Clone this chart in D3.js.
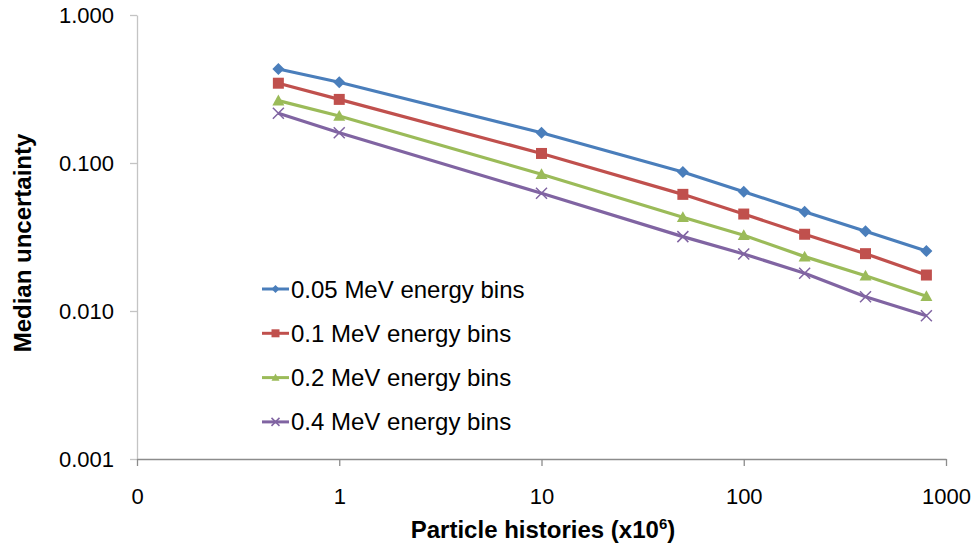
<!DOCTYPE html>
<html>
<head>
<meta charset="utf-8">
<script src="https://cdn.jsdelivr.net/npm/d3@7"></script>
<style>
  html, body { margin: 0; padding: 0; background: #fff; }
  svg { display: block; font-family: "Liberation Sans", Arial, Helvetica, sans-serif; }
</style>
</head>
<body>
<svg id="chart" width="978" height="552"></svg>
<script>
// Particle histories (millions) at which each run was evaluated
const histories = [0.5, 1, 10, 50, 100, 200, 400, 800];

// Median uncertainty for each energy-bin width
const bins005 = [0.432, 0.351, 0.160, 0.0869, 0.0640, 0.0469, 0.0346, 0.0254];
const bins01  = [0.346, 0.269, 0.116, 0.0614, 0.0452, 0.0330, 0.0244, 0.0175];
const bins02  = [0.264, 0.208, 0.0839, 0.0430, 0.0325, 0.0233, 0.0173, 0.0126];
const bins04  = [0.217, 0.160, 0.0624, 0.0318, 0.0243, 0.0180, 0.0125, 0.0093];

const seriesNames = ["0.05 MeV energy bins", "0.1 MeV energy bins", "0.2 MeV energy bins", "0.4 MeV energy bins"];
const seriesColors = ["#4a7ebb", "#c0504d", "#9bbb59", "#8064a2"];
const seriesMarkers = ["diamond", "square", "triangle", "cross"];

// Axis ticks
const xTickValues = [0.1, 1, 10, 100, 1000];
const xTickLabels = ["0", "1", "10", "100", "1000"];
const yTickValues = [1, 0.1, 0.01, 0.001];
const yTickLabels = ["1.000", "0.100", "0.010", "0.001"];

const series = [bins005, bins01, bins02, bins04].map((vals, i) => ({
  name: seriesNames[i],
  color: seriesColors[i],
  marker: seriesMarkers[i],
  points: histories.map((h, j) => ({ x: h, y: vals[j] }))
}));

const svg = d3.select("#chart");
const plot = { left: 137, right: 946, top: 15, bottom: 459 };

const x = d3.scaleLog().domain([0.1, 1000]).range([plot.left, plot.right]);
const y = d3.scaleLog().domain([0.001, 1]).range([plot.bottom, plot.top]);

// Y axis
const yAxis = d3.axisLeft(y)
  .tickValues(yTickValues)
  .tickFormat((d, i) => yTickLabels[i])
  .tickSize(7)
  .tickPadding(16)
  .tickSizeOuter(0);
const gy = svg.append("g").attr("transform", `translate(${plot.left},0)`).call(yAxis);
gy.select(".domain").attr("stroke", "#c4c4c4").attr("stroke-width", 1.3);
gy.selectAll(".tick line").attr("stroke", "#c4c4c4").attr("stroke-width", 1.3);
gy.selectAll(".tick text")
  .attr("fill", "#000")
  .style("font-size", "22px");

// X axis
const xAxis = d3.axisBottom(x)
  .tickValues(xTickValues)
  .tickFormat((d, i) => xTickLabels[i])
  .tickSize(7)
  .tickPadding(22)
  .tickSizeOuter(0);
const gx = svg.append("g").attr("transform", `translate(0,${plot.bottom})`).call(xAxis);
gx.select(".domain").attr("stroke", "#8c8c8c").attr("stroke-width", 1.3);
gx.selectAll(".tick line").attr("stroke", "#8c8c8c").attr("stroke-width", 1.3);
gx.selectAll(".tick text")
  .attr("fill", "#000")
  .style("font-size", "22px");

// Axis titles
const xTitle = svg.append("text")
  .attr("x", 543).attr("y", 538)
  .attr("text-anchor", "middle")
  .style("font-size", "24px").style("font-weight", "bold");
xTitle.append("tspan").text("Particle histories (x10");
xTitle.append("tspan").attr("dy", -9).style("font-size", "15px").text("6");
xTitle.append("tspan").attr("dy", 9).text(")");

svg.append("text")
  .attr("transform", "translate(31,243) rotate(-90)")
  .attr("text-anchor", "middle")
  .style("font-size", "24px").style("font-weight", "bold")
  .text("Median uncertainty");

// Marker shapes, sized by half-width r
function markerPath(type, r) {
  const p = d3.path();
  if (type === "diamond") {
    p.moveTo(0, -r); p.lineTo(r, 0); p.lineTo(0, r); p.lineTo(-r, 0); p.closePath();
  } else if (type === "square") {
    p.rect(-r, -r, 2 * r, 2 * r);
  } else if (type === "triangle") {
    p.moveTo(0, -r); p.lineTo(r, r * 0.8); p.lineTo(-r, r * 0.8); p.closePath();
  } else {
    p.moveTo(-r, -r); p.lineTo(r, r); p.moveTo(r, -r); p.lineTo(-r, r);
  }
  return p.toString();
}

function drawMarker(g, type, color, r) {
  const p = g.append("path").attr("d", markerPath(type, r));
  if (type === "cross") {
    p.attr("fill", "none").attr("stroke", color).attr("stroke-width", 1.5);
  } else {
    p.attr("fill", color).attr("stroke", "none");
  }
}

const markerSize = { diamond: 6, square: 5.5, triangle: 6, cross: 5.5 };

const line = d3.line().x(d => x(d.x)).y(d => y(d.y));

series.forEach(s => {
  svg.append("path")
    .datum(s.points)
    .attr("fill", "none")
    .attr("stroke", s.color)
    .attr("stroke-width", 3.2)
    .attr("stroke-linejoin", "round")
    .attr("d", line);
  s.points.forEach(p => {
    const g = svg.append("g").attr("transform", `translate(${x(p.x)},${y(p.y)})`);
    drawMarker(g, s.marker, s.color, markerSize[s.marker]);
  });
});

// Legend
const legend = svg.append("g").attr("transform", "translate(262,289)");
series.forEach((s, i) => {
  const row = legend.append("g").attr("transform", `translate(0,${i * 44.3})`);
  row.append("line")
    .attr("x1", 0).attr("x2", 27).attr("y1", 0).attr("y2", 0)
    .attr("stroke", s.color).attr("stroke-width", 3);
  const m = row.append("g").attr("transform", "translate(13.5,0)");
  drawMarker(m, s.marker, s.color, 4);
  row.append("text")
    .attr("x", 29).attr("y", 8.5)
    .style("font-size", "24px")
    .attr("fill", "#000")
    .text(s.name);
});
</script>
</body>
</html>
